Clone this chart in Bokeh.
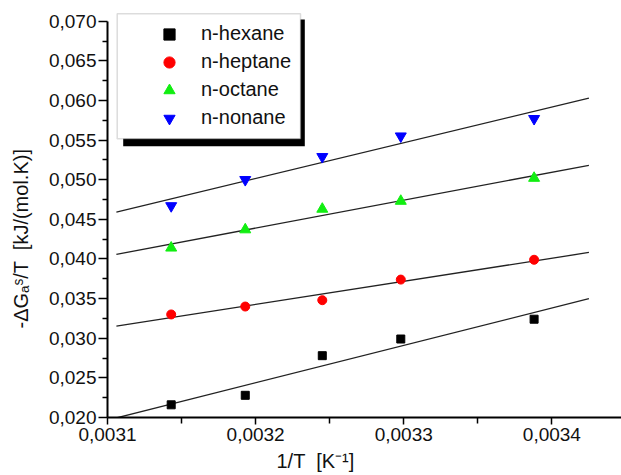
import numpy as np
from bokeh.plotting import figure
from bokeh.models import (BoxAnnotation, Legend, LegendItem, FixedTicker,
                          CustomJSTickFormatter, Range1d, Title)
from bokeh.embed import file_html
from bokeh.resources import INLINE

# ---- data ----
inv_T = [0.003143, 0.003193, 0.003245, 0.003298, 0.003388]
hexane = [0.0216, 0.0228, 0.0278, 0.0299, 0.0324]
heptane = [0.0330, 0.0340, 0.0348, 0.0374, 0.0399]
octane = [0.0414, 0.0437, 0.0463, 0.0473, 0.0502]
nonane = [0.0467, 0.0500, 0.0529, 0.0555, 0.0577]
series_names = ["n-hexane", "n-heptane", "n-octane", "n-nonane"]
fit_extent = [0.003106, 0.003425]   # x-extent of the drawn linear fits
x_ticks = [0.0031, 0.0032, 0.0033, 0.0034]
y_ticks = [0.020, 0.025, 0.030, 0.035, 0.040, 0.045, 0.050, 0.055, 0.060, 0.065, 0.070]
x_title = "1/T \u00a0[K⁻¹]"
y_title = "-ΔGₐˢ/T \u00a0[kJ/(mol.K)]"

FONT = "Liberation Sans"

p = figure(width=621, height=475, output_backend="svg", toolbar_location=None,
           x_range=Range1d(0.0031, 0.003447), y_range=Range1d(0.020, 0.07261),
           min_border_left=107, min_border_right=0, min_border_top=0, min_border_bottom=58)
p.outline_line_color = None
p.grid.visible = False
p.background_fill_color = "white"

x_minor = [(a + b) / 2 for a, b in zip(x_ticks[:-1], x_ticks[1:])] + [x_ticks[-1] + (x_ticks[1] - x_ticks[0]) / 2]
y_minor = [(a + b) / 2 for a, b in zip(y_ticks[:-1], y_ticks[1:])]
p.xaxis.ticker = FixedTicker(ticks=x_ticks, minor_ticks=x_minor)
p.yaxis.ticker = FixedTicker(ticks=y_ticks, minor_ticks=y_minor)
p.xaxis.formatter = CustomJSTickFormatter(code="return tick.toFixed(4).replace('.', ',');")
p.yaxis.formatter = CustomJSTickFormatter(code="return tick.toFixed(3).replace('.', ',');")
p.yaxis.bounds = (y_ticks[0], y_ticks[-1])

for ax in (p.xaxis, p.yaxis):
    ax.axis_line_width = 2
    ax.axis_line_color = "black"
    ax.major_tick_line_width = 1.5
    ax.minor_tick_line_width = 1.5
    ax.major_tick_line_color = "black"
    ax.minor_tick_line_color = "black"
    ax.major_tick_in = 0
    ax.minor_tick_in = 0
    ax.major_label_text_font = FONT
    ax.major_label_text_font_size = "19px"
    ax.major_label_text_color = "#111111"
p.yaxis.major_tick_out = 9
p.yaxis.minor_tick_out = 5
p.yaxis.major_label_standoff = 2
p.xaxis.major_tick_out = 7
p.xaxis.minor_tick_out = 6
p.xaxis.major_label_standoff = 3

# ---- fits ----
series = [hexane, heptane, octane, nonane]
for ys in series:
    k, b = np.polyfit(inv_T, ys, 1)
    fx = np.array(fit_extent)
    p.line(fx, k * fx + b, line_color="#222222", line_width=1.3)

# ---- markers ----
r_hex = p.scatter(inv_T, hexane, marker="square", size=8, color="black")
r_hep = p.scatter(inv_T, heptane, marker="circle", size=9, color="#ff0000")
r_oct = p.scatter(inv_T, octane, marker="triangle", size=11, color="#11ee11")
r_non = p.scatter(inv_T, nonane, marker="inverted_triangle", size=11, color="#0000ff")
renderers = [r_hex, r_hep, r_oct, r_non]

# ---- legend box with shadow ----
shadow = BoxAnnotation(left=15.7, right=197.3, top=398, bottom=271.3,
                       left_units="screen", right_units="screen", top_units="screen", bottom_units="screen",
                       fill_color="black", fill_alpha=1, line_color=None, level="annotation")
box = BoxAnnotation(left=9.7, right=193, top=403.7, bottom=278.7,
                    left_units="screen", right_units="screen", top_units="screen", bottom_units="screen",
                    fill_color="white", fill_alpha=1, line_color="#8a8a8a", line_width=1.5, level="annotation")
p.add_layout(shadow)
p.add_layout(box)

legend = Legend(items=[LegendItem(label=n, renderers=[r]) for n, r in zip(series_names, renderers)],
                location=(48, 285.5), glyph_width=28, glyph_height=28, label_height=25,
                label_standoff=18, spacing=-3, padding=0, margin=0,
                border_line_color=None, background_fill_alpha=0,
                label_text_font=FONT, label_text_font_size="20px", label_text_color="#111111")
p.add_layout(legend)

# ---- axis titles ----
tx = Title(text=x_title, align="left", offset=169, standoff=8,
           text_font=FONT, text_font_size="20px", text_font_style="normal", text_color="#111111")
spacer = Title(text="\u00a0", text_font_size="2px", standoff=9)
ty = Title(text=y_title, align="left", offset=89, standoff=2,
           text_font=FONT, text_font_size="20px", text_font_style="normal", text_color="#111111")
p.add_layout(tx, "below")
p.add_layout(spacer, "left")
p.add_layout(ty, "left")

open("out.html", "w").write(file_html(p, INLINE))
